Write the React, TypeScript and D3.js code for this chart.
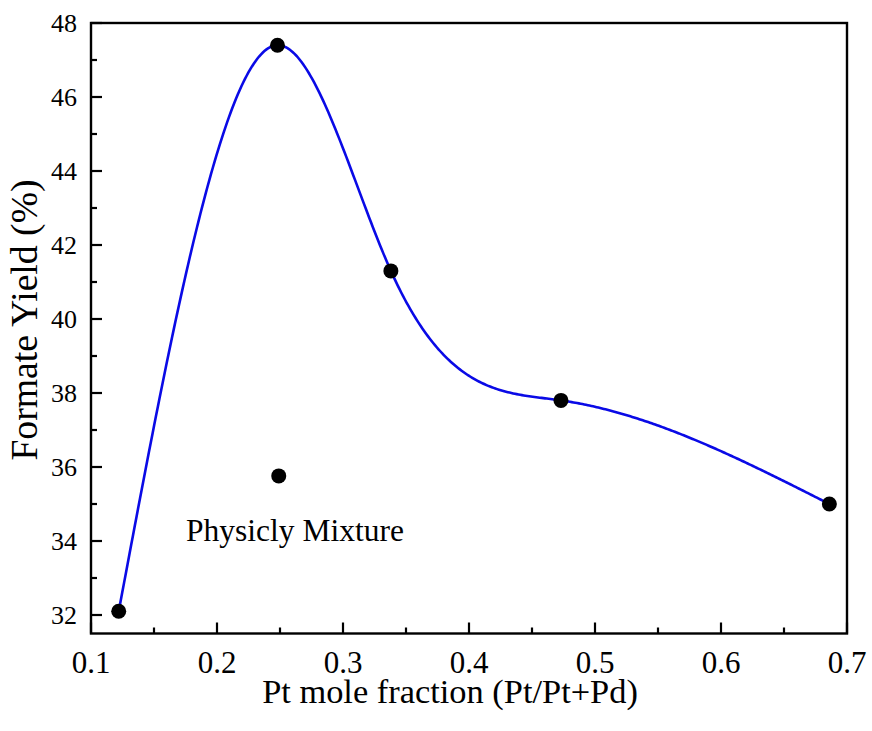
import React from "react";
import * as d3 from "d3";

const ptFraction = [0.122, 0.248, 0.338, 0.473, 0.686];
const formateYield = [32.1, 47.4, 41.3, 37.8, 35.0];
const mixtureX = [0.249];
const mixtureY = [35.76];
const xTicks = [0.1, 0.2, 0.3, 0.4, 0.5, 0.6, 0.7];
const yTicks = [32, 34, 36, 38, 40, 42, 44, 46, 48];
const xMinorTicks = [0.15, 0.25, 0.35, 0.45, 0.55, 0.65];
const yMinorTicks = [33, 35, 37, 39, 41, 43, 45, 47];

const W = 872;
const H = 731;
const FONT = "Liberation Serif, Times New Roman, Times, serif";
const TS: React.CSSProperties = { fontFamily: FONT };

// natural cubic spline y(x)
function naturalSpline(xs: number[], ys: number[]) {
  const n = xs.length;
  const h: number[] = [];
  for (let i = 0; i < n - 1; i++) h.push(xs[i + 1] - xs[i]);
  const a: number[] = new Array(n).fill(0);
  const b: number[] = new Array(n).fill(0);
  const c: number[] = new Array(n).fill(0);
  const r: number[] = new Array(n).fill(0);
  b[0] = 1;
  b[n - 1] = 1;
  for (let i = 1; i < n - 1; i++) {
    a[i] = h[i - 1];
    b[i] = 2 * (h[i - 1] + h[i]);
    c[i] = h[i];
    r[i] = 6 * ((ys[i + 1] - ys[i]) / h[i] - (ys[i] - ys[i - 1]) / h[i - 1]);
  }
  const cp = new Array(n).fill(0);
  const rp = new Array(n).fill(0);
  cp[0] = c[0] / b[0];
  rp[0] = r[0] / b[0];
  for (let i = 1; i < n; i++) {
    const m = b[i] - a[i] * cp[i - 1];
    cp[i] = c[i] / m;
    rp[i] = (r[i] - a[i] * rp[i - 1]) / m;
  }
  const M = new Array(n).fill(0);
  M[n - 1] = rp[n - 1];
  for (let i = n - 2; i >= 0; i--) M[i] = rp[i] - cp[i] * M[i + 1];
  return (x: number) => {
    let i = 0;
    while (i < n - 2 && x > xs[i + 1]) i++;
    const hi = h[i];
    const t1 = xs[i + 1] - x;
    const t2 = x - xs[i];
    return (
      (M[i] * t1 * t1 * t1) / (6 * hi) +
      (M[i + 1] * t2 * t2 * t2) / (6 * hi) +
      (ys[i] / hi - (M[i] * hi) / 6) * t1 +
      (ys[i + 1] / hi - (M[i + 1] * hi) / 6) * t2
    );
  };
}

export default function App() {
  const x = d3.scaleLinear().domain([0.1, 0.7]).range([91, 847]);
  const y = d3.scaleLinear().domain([31.5, 48]).range([633.5, 23]);

  const f = naturalSpline(ptFraction, formateYield);
  const x0 = ptFraction[0];
  const x1 = ptFraction[ptFraction.length - 1];
  const samples: [number, number][] = d3
    .range(0, 401)
    .map((k) => x0 + ((x1 - x0) * k) / 400)
    .map((v) => [v, f(v)]);
  const line = d3
    .line<[number, number]>()
    .x((d) => x(d[0]))
    .y((d) => y(d[1]));

  const left = x.range()[0];
  const right = x.range()[1];
  const top = y.range()[1];
  const bottom = y.range()[0];

  return (
    <svg
      width={W}
      height={H}
      style={{ position: "absolute", left: 0, top: 0, background: "#fff", fontFamily: FONT }}
    >
      <rect x={0} y={0} width={W} height={H} fill="#fff" />
      <path d={line(samples) || ""} fill="none" stroke="#0a0ae6" strokeWidth={2.6} />
      {ptFraction.map((v, i) => (
        <circle key={"p" + i} cx={x(v)} cy={y(formateYield[i])} r={7.5} fill="#000" />
      ))}
      {mixtureX.map((v, i) => (
        <circle key={"m" + i} cx={x(v)} cy={y(mixtureY[i])} r={7.5} fill="#000" />
      ))}
      <text x={186} y={541} fontSize={31.5} fill="#000" style={TS}>
        Physicly Mixture
      </text>

      {yTicks.map((t) => (
        <g key={"yt" + t}>
          <line x1={left} x2={left + 11} y1={y(t)} y2={y(t)} stroke="#000" strokeWidth={2.2} />
          <text x={77} y={y(t)} dy="0.35em" textAnchor="end" fontSize={26} fill="#000" style={TS}>
            {t}
          </text>
        </g>
      ))}
      {yMinorTicks.map((t) => (
        <line key={"ym" + t} x1={left} x2={left + 6} y1={y(t)} y2={y(t)} stroke="#000" strokeWidth={2.2} />
      ))}
      {xTicks.map((t) => (
        <g key={"xt" + t}>
          <line x1={x(t)} x2={x(t)} y1={bottom} y2={bottom - 11} stroke="#000" strokeWidth={2.2} />
          <text x={x(t)} y={673} textAnchor="middle" fontSize={31} fill="#000" style={TS}>
            {d3.format(".1f")(t)}
          </text>
        </g>
      ))}
      {xMinorTicks.map((t) => (
        <line key={"xm" + t} x1={x(t)} x2={x(t)} y1={bottom} y2={bottom - 6} stroke="#000" strokeWidth={2.2} />
      ))}

      <rect
        x={left}
        y={top}
        width={right - left}
        height={bottom - top}
        fill="none"
        stroke="#000"
        strokeWidth={2.4}
      />

      <text x={450} y={703} textAnchor="middle" fontSize={34.4} fill="#000" style={TS}>
        Pt mole fraction (Pt/Pt+Pd)
      </text>
      <text
        transform={`translate(37,320) rotate(-90)`}
        textAnchor="middle"
        fontSize={37.7}
        fill="#000"
        style={TS}
      >
        Formate Yield (%)
      </text>
    </svg>
  );
}
